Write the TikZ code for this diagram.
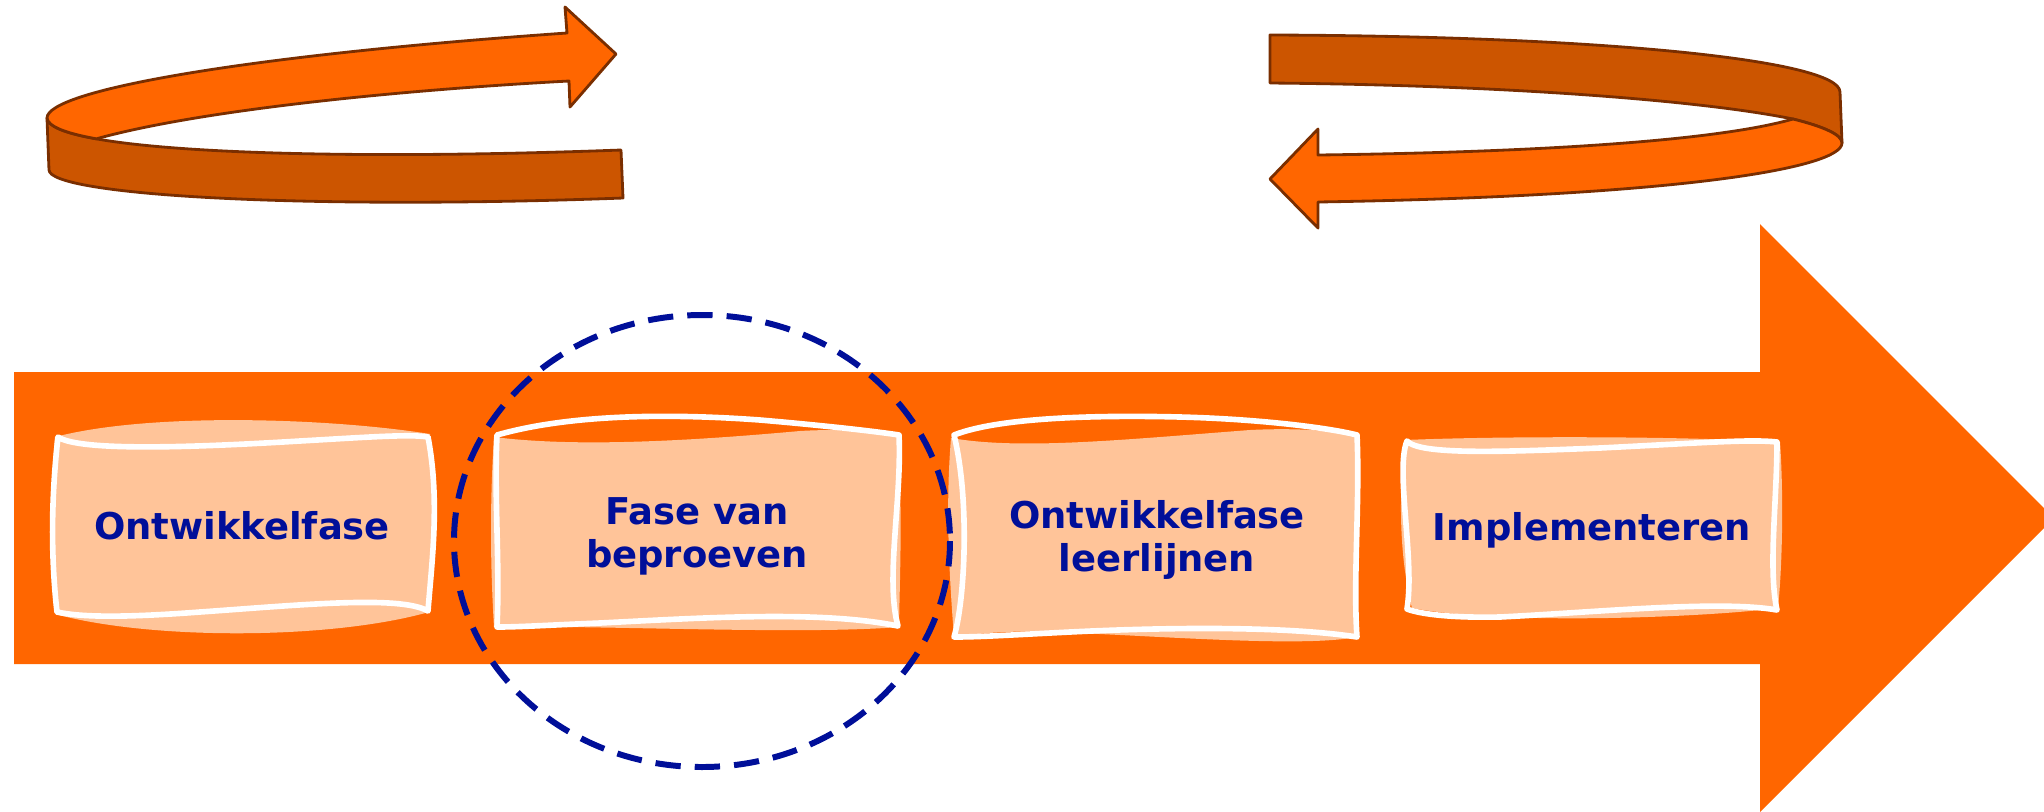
\documentclass[tikz,border=0pt]{standalone}
\usepackage{fontspec}
\setmainfont{DejaVu Sans}
\usetikzlibrary{positioning}
\definecolor{morange}{HTML}{FF6600}
\definecolor{mdark}{HTML}{CC5500}
\definecolor{mbrown}{HTML}{7A2E00}
\definecolor{mpeach}{HTML}{FFC499}
\definecolor{mnavy}{HTML}{000F99}
\tikzset{band/.style = {draw=mbrown, line width=0.8pt, line join=round},
         sheet/.style = {fill=mpeach},
         rim/.style = {draw=white, line width=1.6pt, line join=round, line cap=round},
         phase/.style = {text=mnavy, align=center,
                         font=\bfseries\fontsize{10.5}{12.2}\selectfont}}

\begin{document}
\begin{tikzpicture}[x=0.01cm, y=-0.01cm]
    \useasboundingbox (0, 0) rectangle (2044, 811);

    \fill [morange] (14, 372) -- (1760, 372) -- (1760, 224) -- (2054, 518) -- (1760, 812) -- (1760, 664) -- (14, 664) -- cycle;

    \draw [band, fill=mdark] (621, 150) -- (623, 198) .. controls (300, 210) and (50, 195) .. (49, 170) -- (47, 118) .. controls (50, 150) and (300, 162) .. (621, 150) -- cycle;
    \draw [band, fill=morange] (47, 118) .. controls (47, 90) and (250, 55) .. (567, 33) -- (565, 7) -- (616, 54) -- (570, 107) -- (569, 81) .. controls (400, 90) and (200, 110) .. (96.4, 138.8) .. controls (65.3, 133.3) and (47.8, 126.3) .. (47, 118) -- cycle;

    \draw [band, fill=mdark] (1270, 35) .. controls (1600, 36) and (1840, 60) .. (1840, 92) -- (1842, 143) .. controls (1842, 135) and (1825, 127) .. (1793, 119) .. controls (1700, 100) and (1500, 85) .. (1270, 83) -- cycle;
    \draw [band, fill=morange] (1270, 179) -- (1318, 129) -- (1318, 155) .. controls (1550, 152) and (1720, 140) .. (1793, 119) .. controls (1825, 127) and (1842, 135) .. (1842, 143) .. controls (1842, 168) and (1680, 196) .. (1318, 202) -- (1318, 228) -- cycle;

    \fill [sheet] (55, 437) .. controls (150, 412) and (330, 418) .. (430, 434) .. controls (438, 500) and (436, 560) .. (429, 612) .. controls (330, 640) and (150, 640) .. (55, 614) .. controls (50, 560) and (50, 490) .. (55, 437) -- cycle;
    \draw [rim] (58, 437) .. controls (80, 452) and (200, 447) .. (300, 441) .. controls (370, 437) and (410, 434) .. (428, 437) .. controls (440, 500) and (432, 560) .. (428, 611) .. controls (400, 595) and (300, 605) .. (200, 612) .. controls (120, 618) and (80, 617) .. (57, 612) .. controls (50, 550) and (52, 490) .. (58, 437) -- cycle;

    \fill [sheet] (494, 437) .. controls (580, 448) and (700, 440) .. (800, 431) .. controls (850, 428) and (880, 433) .. (897, 437) .. controls (903, 500) and (900, 570) .. (899, 627) .. controls (800, 635) and (600, 625) .. (494, 627) .. controls (490, 560) and (490, 500) .. (494, 437) -- cycle;
    \draw [rim] (497, 435) .. controls (560, 417) and (650, 412) .. (760, 420) .. controls (830, 426) and (880, 432) .. (899, 435) .. controls (902, 500) and (885, 580) .. (898, 626) .. controls (820, 610) and (700, 618) .. (600, 623) .. controls (550, 625) and (520, 627) .. (497, 627) .. controls (500, 560) and (494, 500) .. (497, 435) -- cycle;

    \fill [sheet] (951, 438) .. controls (1020, 450) and (1120, 440) .. (1250, 430) .. controls (1310, 427) and (1345, 433) .. (1357, 436) .. controls (1355, 500) and (1356, 580) .. (1357, 637) .. controls (1300, 648) and (1150, 635) .. (1050, 632) .. controls (1000, 630) and (970, 635) .. (954, 637) .. controls (948, 560) and (946, 500) .. (951, 438) -- cycle;
    \draw [rim] (954, 435) .. controls (1000, 417) and (1100, 415) .. (1180, 417) .. controls (1260, 419) and (1330, 428) .. (1357, 435) .. controls (1360, 500) and (1353, 580) .. (1357, 637) .. controls (1280, 625) and (1150, 628) .. (1070, 632) .. controls (1010, 635) and (980, 637) .. (954, 637) .. controls (965, 600) and (970, 500) .. (954, 435) -- cycle;

    \fill [sheet] (1405, 440) .. controls (1500, 436) and (1680, 436) .. (1780, 442) .. controls (1784, 500) and (1782, 570) .. (1778, 608) .. controls (1700, 618) and (1500, 625) .. (1412, 608) .. controls (1400, 560) and (1398, 500) .. (1405, 440) -- cycle;
    \draw [rim] (1407, 441) .. controls (1420, 455) and (1500, 452) .. (1600, 448) .. controls (1700, 443) and (1750, 439) .. (1777, 442) .. controls (1777, 500) and (1768, 570) .. (1777, 610) .. controls (1720, 600) and (1600, 612) .. (1500, 617) .. controls (1450, 618) and (1420, 614) .. (1407, 609) .. controls (1415, 560) and (1395, 470) .. (1407, 441) -- cycle;

    \node [phase] (ontw) at (242, 526) {Ontwikkelfase};
    \node [phase] (bepr) at (697, 536) {Fase van\\beproeven};
    \node [phase] (leer) at (1157, 540) {Ontwikkelfase\\leerlijnen};
    \node [phase] (impl) at (1592, 530) {Implementeren};

    \draw [mnavy, line width=1.7pt, dash pattern=on 7.2pt off 4pt] (702, 541) ellipse [x radius=248, y radius=226];
\end{tikzpicture}
\end{document}
